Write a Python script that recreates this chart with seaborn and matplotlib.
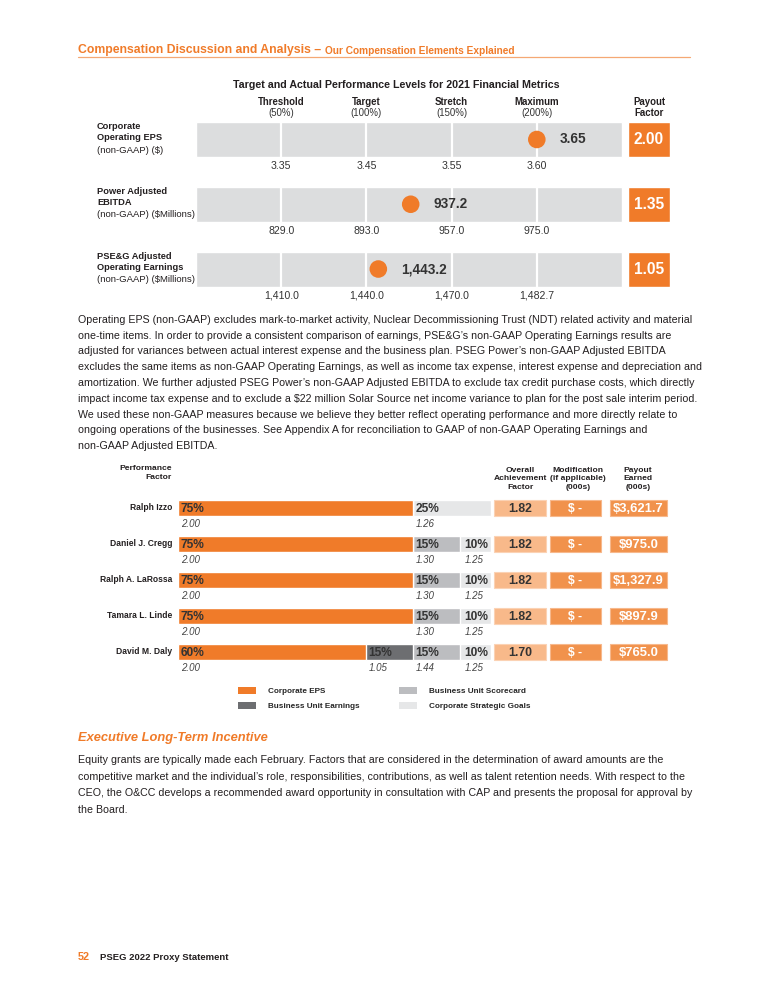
import numpy as np
import pandas as pd
import matplotlib
matplotlib.use("Agg")
import matplotlib.pyplot as plt
import seaborn as sns
from matplotlib.patches import Patch
from matplotlib.lines import Line2D

# ---- data: performance levels chart ----
metric_keys = ["Corporate Operating EPS", "Power Adjusted EBITDA", "PSE&G Adjusted Operating Earnings"]
metric_titles = ["Corporate\nOperating EPS", "Power Adjusted\nEBITDA", "PSE&G Adjusted\nOperating Earnings"]
metric_units = ["(non-GAAP) ($)", "(non-GAAP) ($Millions)", "(non-GAAP) ($Millions)"]
level_names = ["Threshold", "Target", "Stretch", "Maximum"]
level_pcts = ["(50%)", "(100%)", "(150%)", "(200%)"]
eps_levels = ["3.35", "3.45", "3.55", "3.60"]
power_levels = ["829.0", "893.0", "957.0", "975.0"]
pseg_levels = ["1,410.0", "1,440.0", "1,470.0", "1,482.7"]
actual_labels = ["3.65", "937.2", "1,443.2"]
actual_pos = [4.0, 2.52, 2.14]   # where the dot sits on the level scale
payout_factor = ["2.00", "1.35", "1.05"]

# ---- data: performance factor chart ----
execs = ["Ralph Izzo", "Daniel J. Cregg", "Ralph A. LaRossa", "Tamara L. Linde", "David M. Daly"]
w_eps = [75, 75, 75, 75, 60]
w_bue = [0, 0, 0, 0, 15]
w_bus = [0, 15, 15, 15, 15]
w_csg = [25, 10, 10, 10, 10]
f_eps = ["2.00", "2.00", "2.00", "2.00", "2.00"]
f_bue = ["", "", "", "", "1.05"]
f_bus = ["", "1.30", "1.30", "1.30", "1.44"]
f_csg = ["1.26", "1.25", "1.25", "1.25", "1.25"]
overall = ["1.82", "1.82", "1.82", "1.82", "1.70"]
modification = ["$ -", "$ -", "$ -", "$ -", "$ -"]
payout_earned = ["$3,621.7", "$975.0", "$1,327.9", "$897.9", "$765.0"]
legend_labels = ["Corporate EPS", "Business Unit Earnings", "Business Unit Scorecard", "Corporate Strategic Goals"]

body1 = [
    "Operating EPS (non-GAAP) excludes mark-to-market activity, Nuclear Decommissioning Trust (NDT) related activity and material",
    "one-time items. In order to provide a consistent comparison of earnings, PSE&G\u2019s non-GAAP Operating Earnings results are",
    "adjusted for variances between actual interest expense and the business plan. PSEG Power\u2019s non-GAAP Adjusted EBITDA",
    "excludes the same items as non-GAAP Operating Earnings, as well as income tax expense, interest expense and depreciation and",
    "amortization. We further adjusted PSEG Power\u2019s non-GAAP Adjusted EBITDA to exclude tax credit purchase costs, which directly",
    "impact income tax expense and to exclude a $22 million Solar Source net income variance to plan for the post sale interim period.",
    "We used these non-GAAP measures because we believe they better reflect operating performance and more directly relate to",
    "ongoing operations of the businesses. See Appendix A for reconciliation to GAAP of non-GAAP Operating Earnings and",
    "non-GAAP Adjusted EBITDA.",
]
body2 = [
    "Equity grants are typically made each February. Factors that are considered in the determination of award amounts are the",
    "competitive market and the individual\u2019s role, responsibilities, contributions, as well as talent retention needs. With respect to the",
    "CEO, the O&CC develops a recommended award opportunity in consultation with CAP and presents the proposal for approval by",
    "the Board.",
]

ORANGE = "#F07B29"
DARK = "#6D6E71"
MID = "#BCBDC0"
LIGHT = "#E6E7E8"
BARGRAY = "#DCDDDE"
PEACH = "#F8B98A"
BOXOR = "#F1924C"
TXT = "#231F20"

sns.set_theme(style="white")
plt.rcParams["font.family"] = ["Liberation Sans", "DejaVu Sans"]

W, H = 768, 1000
fig = plt.figure(figsize=(7.68, 10), dpi=100)
fig.patch.set_facecolor("white")
renderer = fig.canvas.get_renderer()


def fx(x):
    return x / W


def fy(y):
    return 1 - y / H


def px_axes(l, t, r, b):
    return fig.add_axes([fx(l), fy(b), (r - l) / W, (b - t) / H])


def fit(t, width_px):
    # shrink/grow a text so it spans the width seen in the reference
    w = t.get_window_extent(renderer).width
    t.set_fontsize(t.get_fontsize() * width_px / w)
    return t


def fitted_size(text, width_px, **kw):
    probe = fig.text(0, 0, text, fontsize=10, **kw)
    size = 10 * width_px / probe.get_window_extent(renderer).width
    probe.remove()
    return size


# ---- page header ----
t1 = fit(fig.text(fx(78), fy(50.5), "Compensation Discussion and Analysis \u2013", color=ORANGE,
                  fontsize=9.5, fontweight="bold", va="center"), 243)
x_end = t1.get_window_extent(renderer).x1
fit(fig.text(x_end / W + fx(4), fy(51.2), "Our Compensation Elements Explained", color=ORANGE,
             fontsize=7.8, fontweight="bold", va="center"), 192)
fig.add_artist(Line2D([fx(78), fx(690)], [fy(56.5), fy(56.5)], color="#F5A874", lw=0.9))

# ---- top chart: target vs actual ----
fit(fig.text(fx(396), fy(85), "Target and Actual Performance Levels for 2021 Financial Metrics",
             ha="center", va="center", fontsize=9.6, fontweight="bold", color=TXT), 328)

ax1 = px_axes(196, 107.1, 670, 301.4)
n_lv = len(level_names)
box_l, box_w = 5.07, 0.493
box_c = box_l + box_w / 2
top_df = pd.DataFrame({"metric": metric_keys, "full": [n_lv + 1] * len(metric_keys)})
sns.barplot(data=top_df, x="full", y="metric", orient="h", color=BARGRAY, saturation=1,
            width=0.54, errorbar=None, ax=ax1, zorder=1)
ax1.vlines(np.arange(1, n_lv + 1), -0.5, 2.5, color="white", lw=1.6, zorder=3)
ax1.barh(np.arange(len(metric_keys)), box_w, left=box_l, height=0.54, color=ORANGE, zorder=2)
sns.scatterplot(x=actual_pos, y=metric_keys, s=160, color=ORANGE, edgecolor="none",
                ax=ax1, zorder=5, legend=False)
ax1.set_xlim(0, (670 - 196) / 85.2)
ax1.set_ylim(2.5, -0.5)
ax1.axis("off")

level_values = [eps_levels, power_levels, pseg_levels]
for i in range(len(metric_keys)):
    for j, v in enumerate(level_values[i]):
        ax1.text(j + 1, i + 0.41, v, ha="center", va="center", fontsize=7.6, color="#333333", clip_on=False)
    ax1.text(actual_pos[i] + 0.27, i, actual_labels[i], ha="left", va="center", fontsize=9.8,
             fontweight="bold", color="#333333", zorder=6)
    ax1.text(box_c, i, payout_factor[i], ha="center", va="center", fontsize=11.2,
             fontweight="bold", color="white", zorder=6)
    ax1.text(-1.162, i - 0.27, metric_titles[i], ha="left", va="top", fontsize=6.7,
             fontweight="bold", color=TXT, linespacing=1.3, clip_on=False)
    ax1.text(-1.162, i + 0.165, metric_units[i], ha="left", va="center", fontsize=6.8,
             color=TXT, clip_on=False)
for j in range(n_lv):
    ax1.text(j + 1, -0.58, level_names[j], ha="center", va="center", fontsize=6.9,
             fontweight="bold", color=TXT, clip_on=False)
    ax1.text(j + 1, -0.41, level_pcts[j], ha="center", va="center", fontsize=6.9,
             color="#333333", clip_on=False)
ax1.text(box_c, -0.58, "Payout", ha="center", va="center", fontsize=6.9, fontweight="bold", color=TXT, clip_on=False)
ax1.text(box_c, -0.41, "Factor", ha="center", va="center", fontsize=6.9, fontweight="bold", color=TXT, clip_on=False)

# ---- body text 1 ----
body_size = fitted_size(body1[0], 608)
for k, line in enumerate(body1):
    fig.text(fx(78), fy(320 + 15.75 * k), line, fontsize=body_size, color=TXT, va="center")

# ---- bottom chart: performance factor ----
ax2 = px_axes(178, 490, 670, 670)
df = pd.DataFrame({"exec": execs, "eps": w_eps, "bue": w_bue, "bus": w_bus, "csg": w_csg})
df["c1"] = df["eps"]
df["c2"] = df["c1"] + df["bue"]
df["c3"] = df["c2"] + df["bus"]
df["c4"] = df["c3"] + df["csg"]
for col, colr in [("c4", LIGHT), ("c3", MID), ("c2", DARK), ("c1", ORANGE)]:
    sns.barplot(data=df, x=col, y="exec", orient="h", color=colr, saturation=1, width=0.47,
                errorbar=None, edgecolor="white", linewidth=1, ax=ax2)

rows = np.arange(len(execs))
ax2.barh(rows, 16.6, left=101.0, height=0.47, color=PEACH, edgecolor="#FBD2B4", lw=0.8)
ax2.barh(rows, 16.3, left=118.8, height=0.47, color=BOXOR, edgecolor="#F7B88C", lw=0.8)
ax2.barh(rows, 18.2, left=138.0, height=0.47, color=BOXOR, edgecolor="#F7B88C", lw=0.8)
ax2.set_xlim(0, (670 - 178) / 3.13)
ax2.set_ylim(4.5, -0.5)
ax2.axis("off")

name_size = fitted_size("Ralph A. LaRossa", 72, fontweight="bold")
for i in rows:
    starts = [0, df.loc[i, "c1"], df.loc[i, "c2"], df.loc[i, "c3"]]
    widths = [w_eps[i], w_bue[i], w_bus[i], w_csg[i]]
    facs = [f_eps[i], f_bue[i], f_bus[i], f_csg[i]]
    for k in range(4):
        if widths[k] == 0:
            continue
        pad = 1.6 if (k == 3 and widths[k] == 10) else 0.9
        ax2.text(starts[k] + pad, i + 0.03, f"{widths[k]}%", ha="left", va="center", fontsize=8.6,
                 fontweight="bold", color="#333333")
        ax2.text(starts[k] + pad, i + 0.45, facs[k], ha="left", va="center", fontsize=7,
                 style="italic", color="#444444")
    ax2.text(-1.9, i, execs[i], ha="right", va="center", fontsize=name_size, fontweight="bold",
             color=TXT, clip_on=False)
    ax2.text(109.3, i + 0.03, overall[i], ha="center", va="center", fontsize=8.8, fontweight="bold", color="#333333")
    ax2.text(127.0, i + 0.03, modification[i], ha="center", va="center", fontsize=8.8, fontweight="bold", color="white")
    ax2.text(147.1, i + 0.03, payout_earned[i], ha="center", va="center", fontsize=9.4, fontweight="bold", color="white")

hdr = dict(va="center", fontsize=6.1, fontweight="bold", color=TXT, linespacing=1.35)
fig.text(fx(172), fy(473), "Performance\nFactor", ha="right", **hdr)
fig.text(fx(520), fy(479), "Overall\nAchievement\nFactor", ha="center", **hdr)
fig.text(fx(578), fy(479), "Modification\n(if applicable)\n(000s)", ha="center", **hdr)
fig.text(fx(638), fy(479), "Payout\nEarned\n(000s)", ha="center", **hdr)

handles = [Patch(facecolor=c, edgecolor="none") for c in [ORANGE, DARK, MID, LIGHT]]
fig.legend(handles, legend_labels, ncol=2, loc="upper left", bbox_to_anchor=(fx(238), fy(687)),
           frameon=False, borderpad=0, borderaxespad=0, handlelength=2.24, handleheight=1.0,
           handletextpad=1.4, columnspacing=4.8, labelspacing=0.75,
           prop={"weight": "bold", "size": 5.9})

# ---- section 2 ----
fit(fig.text(fx(78), fy(738), "Executive Long-Term Incentive", color=ORANGE, fontsize=10,
             fontweight="bold", style="italic", va="center"), 191)
for k, line in enumerate(body2):
    fig.text(fx(78), fy(760 + 16.6 * k), line, fontsize=body_size, color=TXT, va="center")

# ---- footer ----
fig.text(fx(78), fy(957), "52", color=ORANGE, fontsize=7.8, fontweight="bold", va="center")
fit(fig.text(fx(100), fy(957), "PSEG 2022 Proxy Statement", color=TXT, fontsize=8,
             fontweight="bold", va="center"), 128)

fig.savefig("out.png", dpi=100, facecolor="white")
